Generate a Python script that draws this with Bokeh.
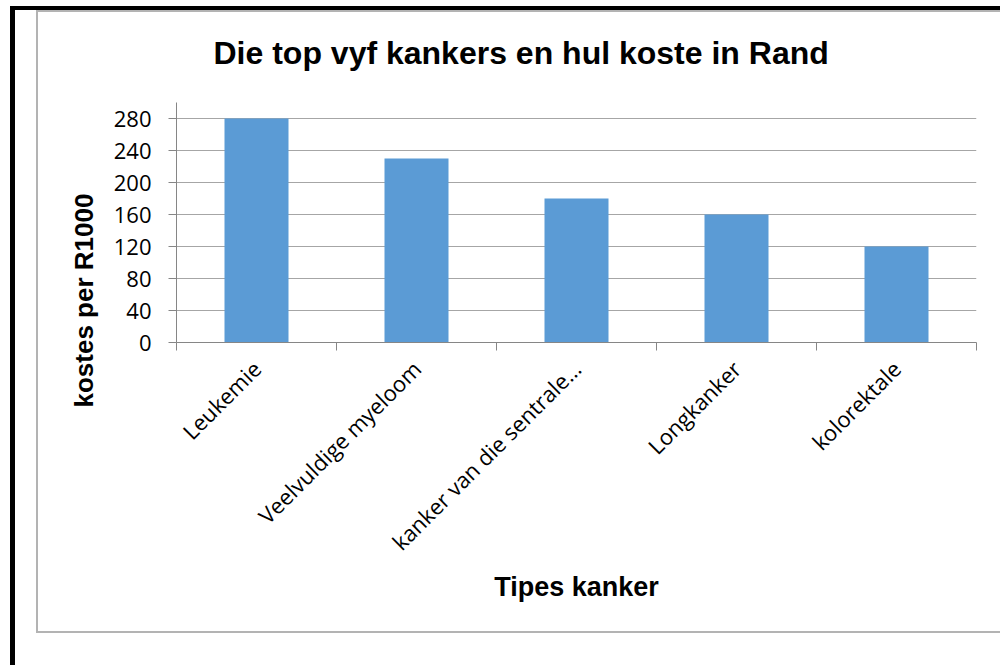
import numpy as np
from bokeh.plotting import figure
from bokeh.models import Range1d, FixedTicker, Title
from bokeh.embed import file_html
from bokeh.resources import INLINE

# ---- data ----
categories = ["Leukemie", "Veelvuldige myeloom", "kanker van die sentrale…", "Longkanker", "kolorektale"]
costs = [280, 230, 180, 160, 120]
y_ticks = [0, 40, 80, 120, 160, 200, 240, 280]
title_text = "Die top vyf kankers en hul koste in Rand"
x_title = "Tipes kanker"
y_title = "kostes per R1000"

W, H = 1000, 665
FL, FT, FR, FB = 176, 102, 976, 342   # frame edges (pixels)
p = figure(width=W, height=H, output_backend="svg", toolbar_location=None, tools="",
           x_range=Range1d(0, len(categories)), y_range=Range1d(0, 300),
           min_border_left=FL, min_border_right=W - FR, min_border_top=FT, min_border_bottom=H - FB,
           outline_line_color=None, background_fill_color="white", border_fill_color=None)

# chart frame decoration (black page border + light grey chart-area border)
p.styles = {
    "background": ", ".join([
        "linear-gradient(#000,#000) 10px 6px / 100% 4px no-repeat",
        "linear-gradient(#000,#000) 10px 6px / 5px 100% no-repeat",
        "linear-gradient(#B3B3B3,#B3B3B3) 36px 10px / 100% 2px no-repeat",
        "linear-gradient(#B3B3B3,#B3B3B3) 36px 10px / 2px 623px no-repeat",
        "linear-gradient(#B3B3B3,#B3B3B3) 36px 631px / 100% 2px no-repeat",
        "#FFFFFF",
    ])
}

centers = [i + 0.5 for i in range(len(categories))]
p.vbar(x=centers, top=costs, width=0.4, fill_color="#5B9BD5", line_color=None)

AX = "#868686"
xa = p.xaxis[0]
xa.ticker = FixedTicker(ticks=centers, minor_ticks=list(range(len(categories) + 1)))
xa.major_label_overrides = {c: lab for c, lab in zip(centers, categories)}
xa.major_label_orientation = np.pi / 4
xa.major_tick_line_color = None
xa.major_tick_out = 0
xa.major_tick_in = 0
xa.minor_tick_out = 8
xa.minor_tick_in = 0
xa.minor_tick_line_color = AX
xa.axis_line_color = AX
xa.major_label_standoff = 14
xa.major_label_text_font = "Open Sans"
xa.major_label_text_font_size = "22px"
xa.major_label_text_color = "black"
xa.axis_label = x_title
xa.axis_label_text_font = "Liberation Sans"
xa.axis_label_text_font_style = "bold"
xa.axis_label_text_font_size = "27px"
xa.axis_label_text_color = "black"
xa.axis_label_standoff = 2

ya = p.yaxis[0]
ya.ticker = FixedTicker(ticks=y_ticks, minor_ticks=[])
ya.major_tick_out = 8
ya.major_tick_in = 0
ya.major_tick_line_color = AX
ya.minor_tick_line_color = None
ya.axis_line_color = AX
ya.major_label_standoff = 17
ya.major_label_text_font = "Open Sans"
ya.major_label_text_font_size = "22px"
ya.major_label_text_color = "black"

p.xgrid.visible = False
p.ygrid.grid_line_color = "#A6A6A6"

p.title.text = title_text
p.title.text_font = "Liberation Sans"
p.title.text_font_style = "bold"
p.title.text_font_size = "32px"
p.title.text_color = "black"
p.title.align = "left"
p.title.offset = 37
p.title.standoff = 63

ytitle = Title(text=y_title, align="left", offset=-65, standoff=24, text_font="Liberation Sans",
               text_font_style="bold", text_font_size="26px", text_color="black")
p.add_layout(ytitle, "left")

open("out.html", "w").write(file_html(p, INLINE))
